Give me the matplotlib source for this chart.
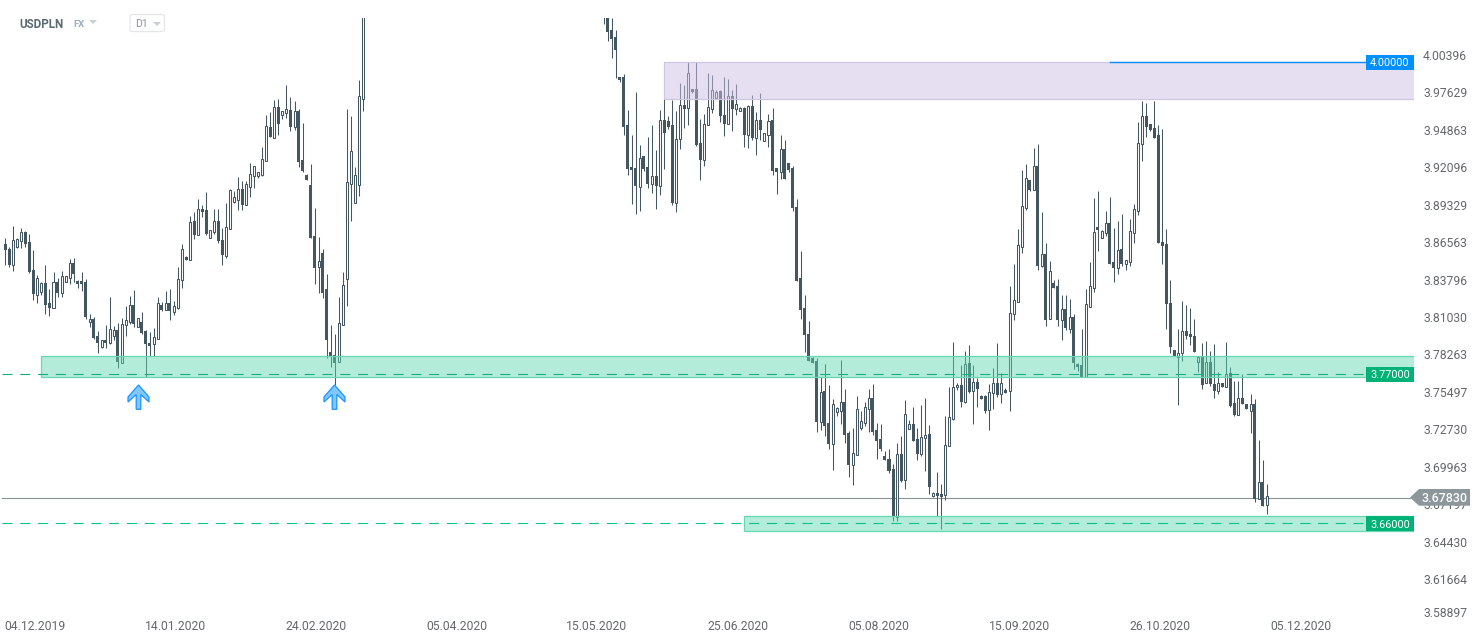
import matplotlib
matplotlib.use("Agg")
import matplotlib.pyplot as plt
from matplotlib.patches import Rectangle, Polygon, FancyBboxPatch
import numpy as np

plt.rcParams['font.family'] = ['Roboto', 'DejaVu Sans']

# Prices are in pips above 3.0000 (8697 -> 3.8697)
first_x = 0
first_high = [8697,8630,8787,8697,8770,8753,8728,8611,8424,8377,
8500,8323,8446,8402,8456,8419,8542,8552,8390,8446,
8394,8139,8115,8011,7947,8056,8264,8051,8073,8107,
8198,8274,8316,8107,8154,8021,8006,8036,8262,8225,
8309,8323,8232,8483,8655,8566,8861,8888,8986,8942,
9040,8758,8910,8913,8770,8959,9058,9048,9146,9117,
9117,9250,9227,9183,9370,9606,9628,9716,9721,9635,
9827,9736,9706,9650,9544,9173,9245,8920,8706,8618,
8434,8058,7992,8262,8446,9650,9598,9225,9864,10500]
first_body_top = [8655,8616,8682,8689,8743,8743,8670,8463,8402,8367,
8367,8220,8375,8375,8419,8417,8515,8515,8380,8382,
8375,8100,8100,7977,7945,7947,8026,8019,8019,8063,
8092,8203,8205,8107,8078,8011,7923,7967,8218,8203,
8218,8220,8196,8394,8616,8557,8814,8824,8913,8913,
8905,8756,8822,8824,8684,8780,9053,8999,9058,9058,
9097,9169,9227,9183,9279,9525,9517,9662,9662,9633,
9647,9640,9633,9633,9272,9164,9087,8714,8530,8586,
8323,7857,7835,8070,8350,9110,9338,9161,9743,10400]
first_body_bot = [8611,8500,8503,8635,8679,8655,8451,8286,8281,8301,
8205,8183,8186,8294,8296,8375,8407,8434,8360,8360,
8117,8083,7962,7925,7896,7925,7928,7977,7785,7780,
8056,8080,8065,8043,7999,7920,7906,7920,7957,8169,
8171,8161,8156,8183,8387,8539,8539,8724,8724,8891,
8729,8701,8746,8677,8576,8569,8765,8967,8979,8942,
8945,9078,9159,9159,9166,9269,9446,9439,9539,9606,
9620,9520,9520,9262,9193,9127,8701,8478,8488,8294,
7947,7825,7780,7783,8060,8394,9097,8959,9087,9726]
first_low = [8500,8488,8458,8628,8628,8630,8444,8245,8218,8279,
8139,8124,8186,8264,8262,8375,8360,8377,8331,8311,
8105,8046,7952,7852,7891,7891,7918,7947,7744,7780,
7977,8065,8046,8041,7992,7677,7830,7830,7957,8161,
8169,8095,8132,8176,8331,8537,8539,8689,8724,8856,
8724,8701,8729,8665,8500,8552,8765,8960,8905,8905,
8945,9004,9070,9144,9159,9269,9446,9439,9458,9576,
9584,9488,9498,9225,9183,9127,8701,8360,8291,8257,
7817,7751,7616,7783,8056,8200,8827,8959,9011,9638]
first_dir = ("FFHHHFFFHH" "FFHFHHHFFF" "FHFFHFHHFH" "HHFHFFFHHF" "HFHHHFHFHF"
             "FHHFFHHHHF" "HHHHHHFHFH" "HFHFFFFFHF" "FFFHHHHHHH")

second_x = 149
second_high = [10450,10450,10321,10233,9884,9908,9643,9457,9773,9385,
9302,9444,9533,9348,9643,9737,9597,9717,9636,9840,
9827,9999,9800,9999,9574,9614,9913,9901,9791,9788,
9886,9872,9791,9835,9663,9663,9682,9754,9628,9766,
9471,9614,9655,9216,9457,9422,9253,9231,8986,8603,
8279,8087,7825,7812,7677,7771,7616,7513,7456,7800,
7584,7277,7299,7535,7422,7491,7584,7623,7333,7329,
7127,7144,7031,7189,7240,7503,7358,7454,7299,7469,
7520,7321,6825,6975,6886,7388,7601,7933,7633,7763,
7866,7911,7763,7667,7540,7540,7621,7741,7923,7702,
7594,8345,8507,8765,9201,9245,9127,9360,9392,8891,
8660,8528,8388,8395,8280,8277,8250,8140,7776,8032,
8321,8520,8994,9043,8758,8898,9002,8771,8825,8876,
8537,8837,8950,9554,9709,9692,9539,9709,9532,9500,
8763,8388,7874,8029,8235,8205,8183,8102,7820,7923,
7937,7866,7918,7709,7630,7933,7746,7645,7645,7697,
7473,7547,7513,7210,7063,6886]
second_body_top = [10400,10400,10233,10179,9884,9884,9530,9221,9213,9287,
9302,9221,9154,9154,9567,9567,9560,9530,9427,9678,
9678,9913,9795,9795,9398,9538,9663,9788,9773,9781,
9604,9744,9744,9685,9655,9655,9670,9670,9567,9567,
9471,9560,9567,9213,9353,9353,9250,9213,8925,8402,
8181,7989,7815,7790,7562,7569,7333,7473,7444,7488,
7488,7262,7112,7437,7348,7451,7518,7518,7282,7216,
7090,7068,6995,7105,7105,7400,7326,7326,7216,7230,
7245,7252,6818,6818,6810,7171,7378,7599,7613,7613,
7771,7776,7636,7636,7535,7532,7562,7628,7631,7628,
7577,8144,8240,8645,8933,9139,9127,9228,9228,8582,
8582,8454,8368,8346,8174,8174,8115,8115,7771,7761,
8211,8343,8741,8781,8751,8808,8808,8520,8609,8616,
8535,8749,8911,9397,9596,9596,9539,9510,9456,8670,
8653,8218,7874,7850,8011,8011,7989,7974,7820,7820,
7785,7785,7623,7628,7630,7699,7702,7481,7517,7517,
7473,7473,7476,6899,6899,6798]
second_body_bot = [10350,10220,10169,10088,9864,9520,9211,9204,9086,9078,
9211,9100,9100,9086,9086,9476,9520,8958,8960,9427,
9653,9655,9778,9388,9277,9277,9530,9653,9729,9601,
9542,9542,9653,9653,9633,9461,9461,9437,9439,9498,
9417,9461,9196,9189,9189,9137,9201,8924,8385,8171,
7987,7795,7780,7346,7346,7316,7184,7184,7419,7427,
7250,7029,7029,7103,7302,7338,7442,7272,7206,7147,
7066,6985,6646,6646,6906,6914,7289,7206,7110,7110,
7223,6867,6801,6801,6793,6803,7164,7368,7599,7493,
7493,7562,7569,7589,7515,7424,7434,7555,7545,7547,
7559,7569,8137,8230,8636,8923,9053,9056,8496,8496,
8095,8100,8331,8098,8098,8039,8032,7781,7752,7678,
7678,8194,8334,8758,8697,8739,8510,8481,8481,8506,
8510,8525,8739,8901,9390,9520,9495,9439,8665,8643,
8216,7899,7830,7825,7854,7979,7972,7861,7788,7618,
7628,7621,7574,7574,7603,7603,7461,7395,7397,7478,
7439,7427,6776,6776,6724,6734]
second_low = [10277,10152,10029,9881,9852,9461,9167,8951,8879,8899,
9196,9071,9034,8914,9017,9211,9506,8946,8894,9353,
9511,9533,9771,9378,9127,9233,9530,9624,9729,9555,
9452,9540,9488,9609,9633,9371,9363,9422,9312,9422,
9417,9373,9167,9024,9137,9132,9186,8899,8385,8105,
7862,7795,7780,7272,7284,7243,7147,6992,7390,7331,
7191,6941,6882,7103,7287,7314,7272,7248,7073,7132,
7066,6970,6616,6616,6901,6852,7289,7206,7063,7095,
6985,6815,6793,6651,6555,6771,7164,7360,7577,7456,
7486,7559,7331,7456,7515,7412,7287,7437,7530,7486,
7559,7427,8097,8230,8591,8906,9048,9056,8464,8488,
8054,8100,8331,8054,7948,8022,8000,7737,7722,7678,
7678,8194,8304,8606,8697,8717,8510,8378,8434,8496,
8466,8496,8663,8869,9269,9446,9490,9439,8665,8508,
8032,7855,7830,7468,7795,7955,7913,7861,7714,7589,
7628,7608,7517,7549,7603,7603,7454,7387,7397,7478,
7436,7265,6754,6776,6724,6668]
second_dir = ("FFFFFFFFFH" "FFHFHFFFHH" "FHFFFHHHHF" "FHFHHFHFHF" "HHFFHFFFFF"
              "FFFFHFFHHH" "FFHHHHHFFF" "FFFHFHHFFH" "HFHFFHHHHF" "HFHFFFHHFH"
              "FHHHHHFHFH" "FHFFHFHFFF" "HHHFHHFFHF" "HHHHHFFFFF" "FFFHHFFFHF"
              "HFFHFHFFHF" "FHFHFH")

date_ticks = [7.4, 42.4, 77.3, 112.4, 147.3, 182.4, 217.5, 252.6, 287.5, 322.6]
date_labels = ["04.12.2019", "14.01.2020", "24.02.2020", "05.04.2020", "15.05.2020",
               "25.06.2020", "05.08.2020", "15.09.2020", "26.10.2020", "05.12.2020"]
price_labels = ["4.00396", "3.97629", "3.94863", "3.92096", "3.89329", "3.86563", "3.83796", "3.81030",
                "3.78263", "3.75497", "3.72730", "3.69963", "3.67197", "3.64430", "3.61664", "3.58897"]
current_price = 3.6783
level_blue = 4.0
level_mid = 3.77
level_low = 3.66
zone_top = (164.0, 4.0, 3.9724)
zone_mid = (8.9, 3.7830, 3.7673)
zone_low = (183.9, 3.6651, 3.6538)

W, H = 1482, 643
INK = '#44565f'
fig = plt.figure(figsize=(W / 100, H / 100), dpi=100, facecolor='white')
ax = fig.add_axes([0, 1 - 618 / H, 1414 / W, 600 / H])
left, right = -1.32, 350.7
ax.set_xlim(left, right)
ax.set_ylim(3.58990, 4.03206)
for s in ax.spines.values():
    s.set_visible(False)
ax.patch.set_alpha(0)


def draw_candles(x0, hi, top, bot, lo, direction):
    x = x0 + np.arange(len(hi))
    hi, top, bot, lo = [3 + np.array(v) / 1e4 for v in (hi, top, bot, lo)]
    rising = np.array([c == 'H' for c in direction])
    ax.vlines(x, lo, hi, color=INK, lw=0.75, zorder=2)
    ax.bar(x[~rising], (top - bot)[~rising], bottom=bot[~rising], width=0.75,
           color=INK, lw=0, zorder=2.1)
    ax.bar(x[rising], (top - bot)[rising], bottom=bot[rising], width=0.5,
           facecolor='white', edgecolor=INK, lw=0.75, zorder=2.1)


draw_candles(first_x, first_high, first_body_top, first_body_bot, first_low, first_dir)
draw_candles(second_x, second_high, second_body_top, second_body_bot, second_low, second_dir)

line_start = -0.8
ax.plot([line_start, 349.7], [current_price] * 2, color='#8a9498', lw=0.8, zorder=1.5)


def zone(spec, fc, ec):
    x0, y1, y0 = spec
    ax.add_patch(Rectangle((x0, y0), right - x0, y1 - y0, facecolor=fc, edgecolor='none', zorder=3))
    ax.add_patch(Rectangle((x0, y0), right - x0 + 2, y1 - y0, facecolor='none', edgecolor=ec, lw=0.9, zorder=3.1))


zone(zone_top, (0xcf / 255, 0xc1 / 255, 0xe7 / 255, 0.5), '#cfc6e4')
zone(zone_mid, (0x5e / 255, 0xd7 / 255, 0xae / 255, 0.47), '#66d8b4')
zone(zone_low, (0x5e / 255, 0xd7 / 255, 0xae / 255, 0.47), '#66d8b4')

lab_x = 338.7
ax.plot([275.0, lab_x], [level_blue] * 2, color='#0a8fff', lw=1.0, zorder=4)
ax.plot([line_start, lab_x], [level_mid] * 2, color='#12ad80', lw=0.8, ls=(0, (9, 7)), zorder=4)
ax.plot([line_start, lab_x], [level_low] * 2, color='#00c48a', lw=0.8, ls=(0, (9, 7)), zorder=4)

ax.set_yticks([])
ax.set_xticks(date_ticks, date_labels)
ax.tick_params(axis='x', length=0, pad=1.5, labelsize=8.7, labelcolor='#64686a')

ax2 = ax.twinx()
ax2.set_ylim(3.58785, 4.03131)
tick_pos = [float(v) for v in price_labels[:-1]] + [3.59228]
ax2.set_yticks(tick_pos, price_labels)
ax2.tick_params(axis='y', length=0, pad=6.5, labelsize=8.7, labelcolor='#64686a')
for s in ax2.spines.values():
    s.set_visible(False)
ax2.patch.set_alpha(0)


def fx(px):
    return px / W


def fy(py):
    return 1 - py / H


def box(x0, y0, x1, y1, color):
    fig.add_artist(Rectangle((fx(x0), fy(y1)), fx(x1) - fx(x0), fy(y0) - fy(y1), facecolor=color,
                             edgecolor='none', transform=fig.transFigure))


def poly(points, **kw):
    fig.add_artist(Polygon([(fx(a), fy(b)) for a, b in points], closed=True,
                           transform=fig.transFigure, **kw))


for y0, y1, col, txt in [(55, 70, '#0090ff', '4.00000'), (367, 382, '#00b276', '3.77000'),
                         (516, 531, '#00b276', '3.66000')]:
    box(1366, y0, 1414, y1, col)
    fig.text(fx(1390), fy((y0 + y1) / 2), txt, color='white', fontsize=7.8, ha='center', va='center_baseline')

poly([(1410, 497.5), (1419, 489), (1470, 489), (1470, 505.7), (1419, 505.7)], facecolor='#8d979b', edgecolor='none')
fig.text(fx(1444.5), fy(497.5), f"{current_price:.5f}", color='white', fontsize=9, fontweight='medium',
         ha='center', va='center_baseline')

for cx in (138.5, 334.5):
    pts = [(cx, 385), (cx + 10.5, 397), (cx + 10.5, 402), (cx + 2.3, 394.5), (cx + 2.3, 409.3),
           (cx - 2.3, 409.3), (cx - 2.3, 394.5), (cx - 10.5, 402), (cx - 10.5, 397)]
    poly(pts, facecolor='#80c6ff', edgecolor='#1a96ff', lw=0.9)

fig.text(fx(19.5), fy(22.5), "USDPLN", color='#5a6870', fontsize=8.4, fontweight='bold', ha='left', va='center_baseline')
fig.text(fx(73), fy(23.5), "FX", color='#9aaebb', fontsize=6.8, fontweight='bold', ha='left', va='center_baseline')
poly([(89, 20), (97, 20), (93, 24)], facecolor='#c8ced2', edgecolor='none')
fig.add_artist(FancyBboxPatch((fx(130), fy(31.5)), fx(164.5) - fx(130), fy(14.5) - fy(31.5),
                              boxstyle="round,pad=0,rounding_size=0.002", transform=fig.transFigure,
                              facecolor='white', edgecolor='#e4e7e9', lw=0.9))
fig.text(fx(135), fy(23), "D1", color='#8a9499', fontsize=7.6, ha='left', va='center_baseline')
poly([(153, 22), (161, 22), (157, 26)], facecolor='#c8ced2', edgecolor='none')

fig.savefig('out.png', dpi=100)
